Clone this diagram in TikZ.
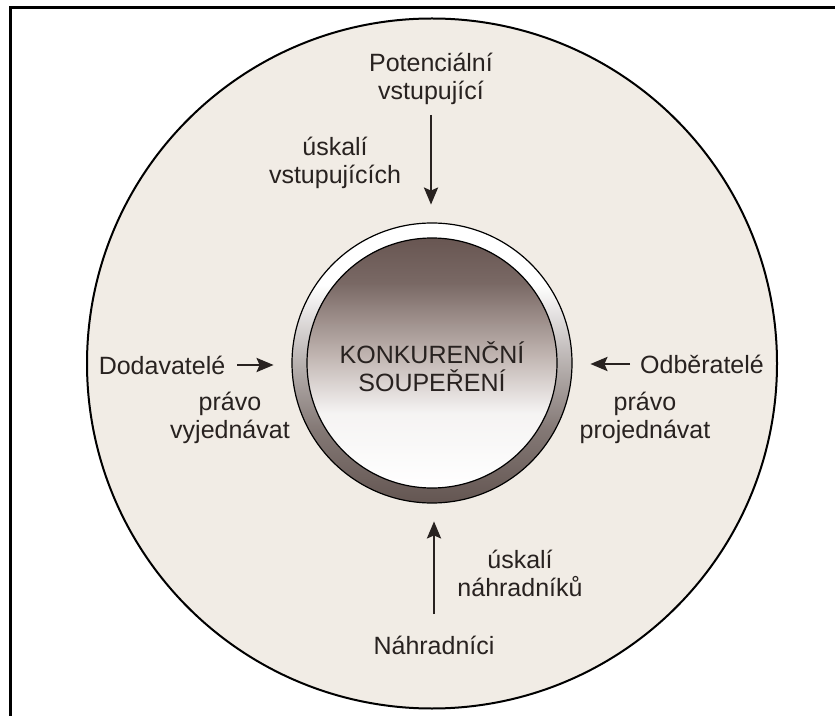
\documentclass[tikz,border=0pt]{standalone}
\usepackage{fontspec}
\setmainfont{Liberation Sans}
\usetikzlibrary{arrows.meta}

\definecolor{paper}{RGB}{241,236,229}
\definecolor{ink}{RGB}{40,34,32}
\definecolor{rimdark}{RGB}{100,86,82}
\definecolor{discdark}{RGB}{104,86,82}
\definecolor{discmid}{RGB}{190,178,174}

\pgfdeclareverticalshading{discshade}{100bp}{color(0bp)=(white); color(25bp)=(white); color(40bp)=(white!85!discmid); color(52bp)=(discmid); color(66bp)=(discdark!80!discmid); color(75bp)=(discdark); color(100bp)=(discdark)}
\pgfdeclareverticalshading{rimshade}{100bp}{color(0bp)=(rimdark); color(25bp)=(rimdark); color(38bp)=(rimdark!80!white); color(52bp)=(rimdark!40!white); color(64bp)=(white); color(100bp)=(white)}

\begin{document}
\begin{tikzpicture}[x=0.5pt, y=-0.5pt,
  lbl/.style={align=center, text=ink, font=\fontsize{12.5pt}{14pt}\selectfont},
  arr/.style={draw=ink, line width=1.4pt, -{Stealth[length=8.5pt, width=7pt, inset=1.5pt]}, shorten >=9pt}]
\useasboundingbox (0,0) rectangle (835,716);

% frame and background disc
\draw[line width=1.5pt] (10.5,716) |- (835,7.5);
\filldraw[fill=paper, draw=black, line width=1pt] (432,363.5) circle[radius=172.5pt];

% centre ring
\node[circle, minimum size=140pt, inner sep=0pt] (ring) at (432,363) {};
\shade[shading=rimshade, even odd rule] (ring.center) circle[radius=70pt] (ring.center) circle[radius=62.5pt];
\shade[shading=discshade] (ring.center) circle[radius=62.5pt];
\draw[black, line width=0.6pt] (ring.center) circle[radius=70pt];
\draw[black, line width=0.6pt] (ring.center) circle[radius=62.5pt];
\node[lbl] (rival) at (432,366.5) {KONKURENČNÍ\\SOUPEŘENÍ};

% forces
\node[lbl] (pot) at (431,79) {Potenciální\\vstupující};
\node[lbl] (uvst) at (335,163) {úskalí\\vstupujících};
\node[lbl] (dod) at (162,365) {Dodavatelé};
\node[lbl] (prvy) at (230,418) {právo\\vyjednávat};
\node[lbl] (odb) at (702,364) {Odběratelé};
\node[lbl] (prpro) at (645,418) {právo\\projednávat};
\node[lbl] (unahr) at (520,573) {úskalí\\náhradníků};
\node[lbl] (nahr) at (434,645) {Náhradníci};

\draw[arr, shorten <=1.5pt] (pot) -- (pot |- ring.north);
\draw[arr, shorten <=2.5pt] (dod) -- (dod -| ring.west);
\draw[arr, shorten <=1.5pt] (odb) -- (odb -| ring.east);
\draw[arr, shorten <=7.3pt] (nahr) -- (nahr |- ring.south);
\end{tikzpicture}
\end{document}
